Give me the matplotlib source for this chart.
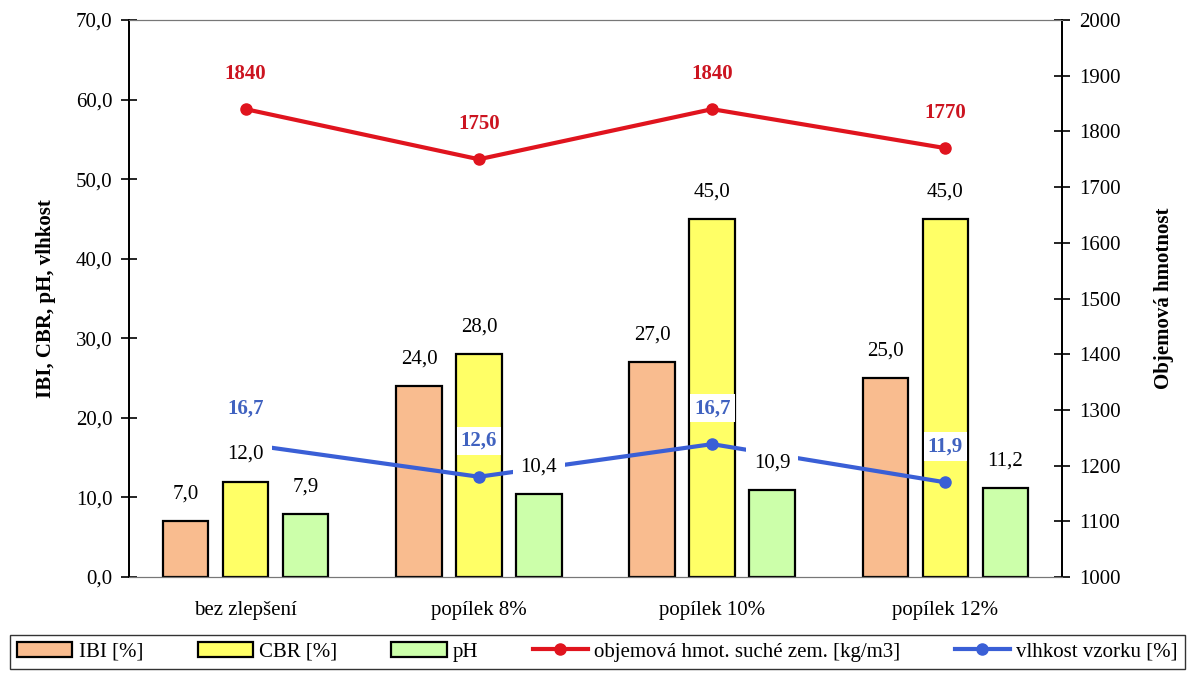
import matplotlib
matplotlib.use("Agg")
import matplotlib.pyplot as plt
import numpy as np
from matplotlib.ticker import FuncFormatter

# data
categories = ["bez zlepšení", "popílek 8%", "popílek 10%", "popílek 12%"]
ibi = [7.0, 24.0, 27.0, 25.0]
cbr = [12.0, 28.0, 45.0, 45.0]
ph = [7.9, 10.4, 10.9, 11.2]
hustota = [1840, 1750, 1840, 1770]
vlhkost = [16.7, 12.6, 16.7, 11.9]

plt.rcParams['font.family'] = ['Liberation Serif', 'DejaVu Serif']

fig = plt.figure(figsize=(11.87, 6.79), dpi=100)
ax = fig.add_axes([0.1087, 0.1502, 0.786, 0.8203])
ax2 = ax.twinx()

x = np.arange(len(categories))
w = 0.195
off = 0.257
fs = 15

def fmt(v):
    return f"{v:.1f}".replace('.', ',')

series = [(ibi, -off, '#F9BC8F', 'IBI [%]'),
          (cbr, 0, '#FFFF66', 'CBR [%]'),
          (ph, off, '#CCFFAA', 'pH')]
handles = []
for vals, o, col, name in series:
    b = ax.bar(x + o, vals, width=w, color=col, edgecolor='black', linewidth=1.6,
               label=name, zorder=2)
    handles.append(b)

# blue line on left axis
lb, = ax.plot(x, vlhkost, color='#3A5FD6', lw=3, marker='o', ms=8, zorder=3,
              label='vlhkost vzorku [%]')

# bar labels (white boxes sit over the line)
for vals, o, col, name in series:
    for xi, v in zip(x, vals):
        ax.text(xi + o, v + 3.4, fmt(v), ha='center', va='center', fontsize=fs,
                bbox=dict(facecolor='white', edgecolor='none', pad=5.5), zorder=4)

for xi, v in zip(x, vlhkost):
    ax.text(xi, v + 4.5, fmt(v), ha='center', va='center', fontsize=fs,
            fontweight='bold', color='#4062C0',
            bbox=dict(facecolor='white', edgecolor='none', pad=3), zorder=5)

# red line on right axis
lr, = ax2.plot(x, hustota, color='#E0141E', lw=3, marker='o', ms=8, zorder=3,
               label='objemová hmot. suché zem. [kg/m3]')
for xi, v in zip(x, hustota):
    ax2.text(xi, v + 63, str(v), ha='center', va='center', fontsize=fs,
             fontweight='bold', color='#CC1420',
             bbox=dict(facecolor='white', edgecolor='none', pad=3), zorder=5)

ax.set_xlim(-0.5, 3.5)
ax.set_ylim(0, 70)
ax.set_yticks(np.arange(0, 71, 10))
ax.yaxis.set_major_formatter(FuncFormatter(lambda v, p: fmt(v)))
ax2.set_ylim(1000, 2000)
ax2.set_yticks(np.arange(1000, 2001, 100))

ax.set_xticks(x)
ax.set_xticklabels(categories, fontsize=fs)
ax.tick_params(axis='x', length=0, pad=17)
ax.tick_params(axis='y', direction='inout', length=12, width=1.2, labelsize=fs, pad=6)
ax2.tick_params(axis='y', direction='inout', length=12, width=1.2, labelsize=fs, pad=6)

for a in (ax, ax2):
    a.spines['top'].set_color('#777777')
    a.spines['bottom'].set_color('#777777')
    a.spines['left'].set_color('black')
    a.spines['right'].set_color('black')
    a.spines['left'].set_linewidth(1.3)
    a.spines['right'].set_linewidth(1.3)

ax.set_ylabel("IBI, CBR, pH, vlhkost", fontsize=fs, fontweight='bold', labelpad=14)
ax2.set_ylabel("Objemová hmotnost", fontsize=fs, fontweight='bold', labelpad=24)

leg = fig.legend(handles + [lr, lb],
                 ['IBI [%]', 'CBR [%]', 'pH', 'objemová hmot. suché zem. [kg/m3]',
                  'vlhkost vzorku [%]'],
                 loc='lower left', bbox_to_anchor=(0.0084, 0.0147, 0.99, 0.0575),
                 ncol=5, fontsize=fs, frameon=True, fancybox=False, edgecolor='black',
                 handlelength=2.65, handletextpad=0.3, columnspacing=0.5,
                 borderpad=0.35, borderaxespad=0, mode='expand')
leg.get_frame().set_linewidth(1.0)

fig.savefig("out.png", dpi=100)
